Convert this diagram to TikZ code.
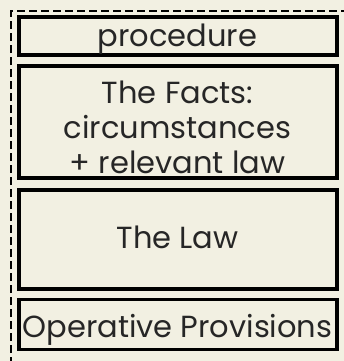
\documentclass[tikz,border=0pt]{standalone}
\usepackage{fontspec}
\setmainfont{Poppins}
\begin{document}
\begin{tikzpicture}[x=1pt,y=-1pt,
  sect/.style={draw=black,line width=3.2pt,inner sep=0pt,minimum width=318pt},
  lbl/.style={font=\fontsize{30.5}{35}\selectfont,text=black!85,inner sep=0pt,anchor=base,align=center},
]
\useasboundingbox (0,0) rectangle (344,361);
\fill[color={rgb,255:red,242;green,240;blue,226}] (0,0) rectangle (344,361);
\draw[line width=2.8pt,dash pattern=on 8pt off 4pt] (11,365) -- (11,11) -- (348,11);
\node[sect,minimum height=38pt] (p) at (178,36) {};
\node[sect,minimum height=112pt] (f) at (178,122) {};
\node[sect,minimum height=99pt] (l) at (178,239.5) {};
\node[sect,minimum height=50pt] (o) at (178,324.5) {};
\node[lbl] (pt) at (177.5,47) {procedure};
\node[lbl] (ft1) at (177.5,103) {The Facts:};
\node[lbl] (ft2) at (177.5,138) {circumstances};
\node[lbl] (ft3) at (177.5,173) {+ relevant law};
\node[lbl] (lt) at (177.5,248) {The Law};
\node[lbl] (ot) at (177.5,337) {Operative Provisions};
\end{tikzpicture}
\end{document}
